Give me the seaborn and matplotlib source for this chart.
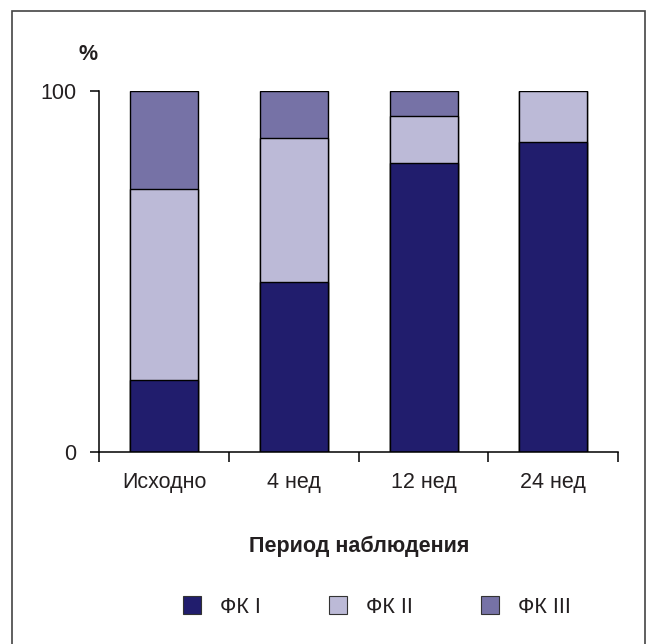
import matplotlib
matplotlib.use("Agg")
import seaborn as sns
import numpy as np
import pandas as pd
import matplotlib.pyplot as plt
from matplotlib.patches import Rectangle
from matplotlib.lines import Line2D

# data (percent of patients per functional class)
periods = ["Исходно", "4 нед", "12 нед", "24 нед"]
fk1 = [20, 47, 80, 86]
fk2 = [53, 40, 13, 14]
fk3 = [27, 13, 7, 0]
series_names = ["ФК I", "ФК II", "ФК III"]
colors = ["#211d6d", "#bcbad7", "#7672a6"]
y_ticks = [0, 100]

sns.set_style("white")
plt.rcParams['font.family'] = ['Liberation Sans', 'DejaVu Sans']
text_col = "#231f20"
fs = 15.5

df = pd.DataFrame({"period": periods, "fk1": fk1, "fk2": fk2, "fk3": fk3})
df["top1"] = df["fk1"]
df["top2"] = df["fk1"] + df["fk2"]
df["top3"] = df["top2"] + df["fk3"]

fig = plt.figure(figsize=(6.5, 6.44), dpi=100)
ax = fig.add_axes([0.153, 0.2977, 0.798, 0.561])

# stacked look: draw cumulative totals from tallest to shortest
for col, c in zip(["top3", "top2", "top1"], colors[::-1]):
    sns.barplot(data=df, x="period", y=col, color=c, width=0.525, saturation=1,
                edgecolor="black", linewidth=1.0, ax=ax)

ax.set_xlim(-0.5, 3.5)
ax.set_ylim(0, 100)
ax.set_xlabel("")
ax.set_ylabel("")

# Axis
ax.set_xticks(np.arange(-0.5, 4.0, 1.0))
ax.set_xticklabels([])
ax.set_xticks(np.arange(4), minor=True)
ax.set_xticklabels(periods, minor=True, fontsize=fs, color=text_col)
ax.tick_params(axis="x", which="major", bottom=True, length=7, width=1.1,
               direction="out", color="black")
ax.tick_params(axis="x", which="minor", bottom=True, length=0, pad=14)
ax.set_yticks(y_ticks)
ax.set_yticklabels([str(t) for t in y_ticks], fontsize=fs, color=text_col)
ax.tick_params(axis="y", left=True, length=6.5, width=1.1, direction="out", pad=10, color="black")

for s in ["top", "right"]:
    ax.spines[s].set_visible(False)
for s in ["left", "bottom"]:
    ax.spines[s].set_color("black")
    ax.spines[s].set_linewidth(1.1)

ax.text(-0.022, 1.10, "%", transform=ax.transAxes, ha="center", va="center",
        fontsize=fs, fontweight="bold", color=text_col)
fig.text(0.553, 0.152, "Период наблюдения", ha="center", va="center",
         fontsize=fs, fontweight="bold", color=text_col)

# Legend
handles = [Line2D([], [], marker="s", linestyle="none", markersize=12.5,
                  markerfacecolor=c, markeredgecolor="#333333", markeredgewidth=0.8)
           for c in colors]
fig.legend(handles, series_names, loc="center", bbox_to_anchor=(0.577, 0.057),
           ncol=3, frameon=False, fontsize=fs, handletextpad=0.7, handlelength=1.2,
           columnspacing=3.0, labelcolor=text_col)

# outer frame
fig.patches.append(Rectangle((12 / 650, -0.02), 633 / 650, 1.003, transform=fig.transFigure,
                             fill=False, edgecolor="#444444", linewidth=1.2))

plt.savefig("out.png", dpi=100)
plt.close("all")
